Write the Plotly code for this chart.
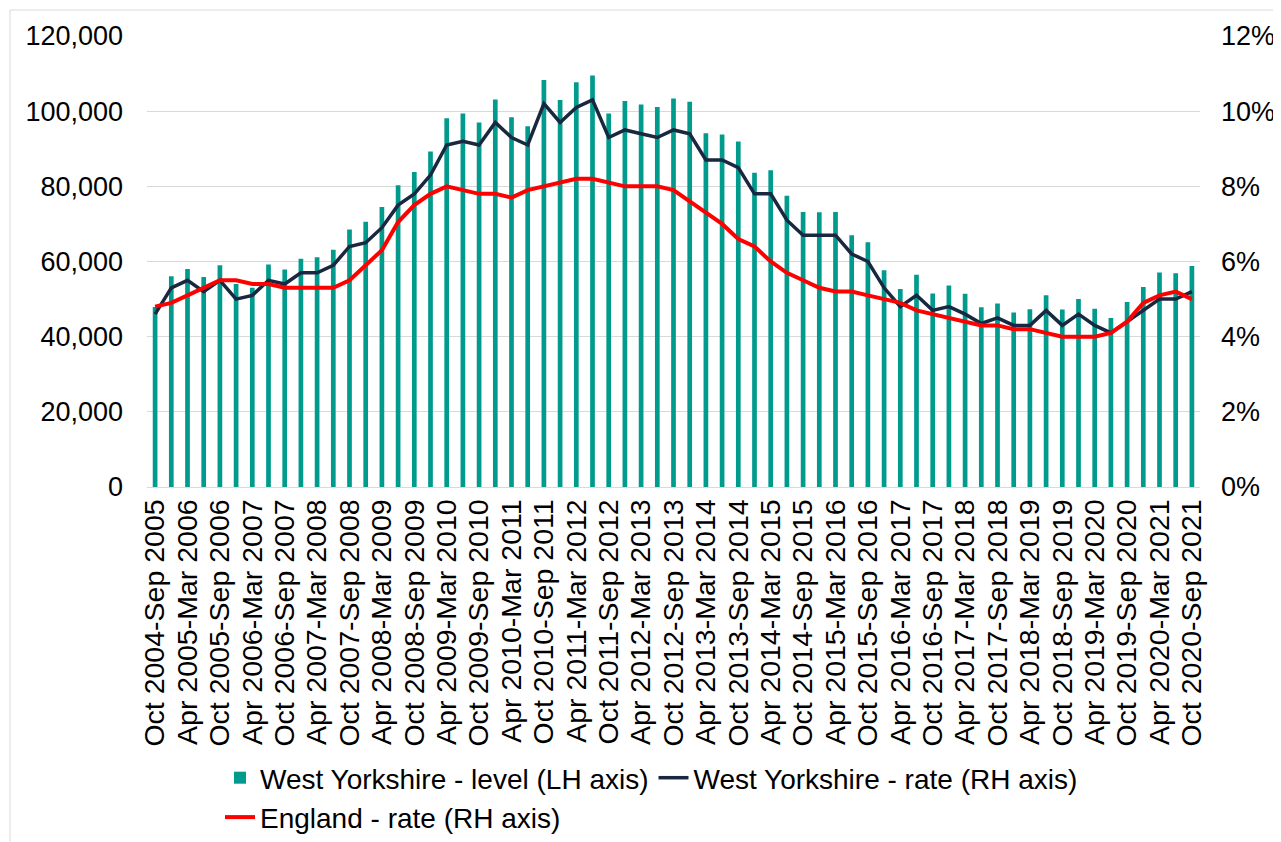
import plotly.graph_objects as go

periods = [
    "Oct 2004-Sep 2005", "Jan 2005-Dec 2005", "Apr 2005-Mar 2006", "Jul 2005-Jun 2006",
    "Oct 2005-Sep 2006", "Jan 2006-Dec 2006", "Apr 2006-Mar 2007", "Jul 2006-Jun 2007",
    "Oct 2006-Sep 2007", "Jan 2007-Dec 2007", "Apr 2007-Mar 2008", "Jul 2007-Jun 2008",
    "Oct 2007-Sep 2008", "Jan 2008-Dec 2008", "Apr 2008-Mar 2009", "Jul 2008-Jun 2009",
    "Oct 2008-Sep 2009", "Jan 2009-Dec 2009", "Apr 2009-Mar 2010", "Jul 2009-Jun 2010",
    "Oct 2009-Sep 2010", "Jan 2010-Dec 2010", "Apr 2010-Mar 2011", "Jul 2010-Jun 2011",
    "Oct 2010-Sep 2011", "Jan 2011-Dec 2011", "Apr 2011-Mar 2012", "Jul 2011-Jun 2012",
    "Oct 2011-Sep 2012", "Jan 2012-Dec 2012", "Apr 2012-Mar 2013", "Jul 2012-Jun 2013",
    "Oct 2012-Sep 2013", "Jan 2013-Dec 2013", "Apr 2013-Mar 2014", "Jul 2013-Jun 2014",
    "Oct 2013-Sep 2014", "Jan 2014-Dec 2014", "Apr 2014-Mar 2015", "Jul 2014-Jun 2015",
    "Oct 2014-Sep 2015", "Jan 2015-Dec 2015", "Apr 2015-Mar 2016", "Jul 2015-Jun 2016",
    "Oct 2015-Sep 2016", "Jan 2016-Dec 2016", "Apr 2016-Mar 2017", "Jul 2016-Jun 2017",
    "Oct 2016-Sep 2017", "Jan 2017-Dec 2017", "Apr 2017-Mar 2018", "Jul 2017-Jun 2018",
    "Oct 2017-Sep 2018", "Jan 2018-Dec 2018", "Apr 2018-Mar 2019", "Jul 2018-Jun 2019",
    "Oct 2018-Sep 2019", "Jan 2019-Dec 2019", "Apr 2019-Mar 2020", "Jul 2019-Jun 2020",
    "Oct 2019-Sep 2020", "Jan 2020-Dec 2020", "Apr 2020-Mar 2021", "Jul 2020-Jun 2021",
    "Oct 2020-Sep 2021",
]

tick_labels = periods[::2]

wy_level = [
    47900, 56100, 58000, 55900, 59000, 54000, 53000, 59200,
    57900, 60700, 61100, 63100, 68500, 70600, 74500, 80300,
    83800, 89300, 98100, 99400, 97000, 103100, 98400, 96000,
    108300, 103000, 107700, 109500, 99400, 102700, 101800, 101100,
    103400, 102500, 94100, 93800, 91900, 83600, 84300, 77500,
    73200, 73100, 73200, 67000, 65100, 57700, 52700, 56500,
    51500, 53600, 51400, 47800, 48800, 46400, 47300, 51000,
    47200, 50000, 47400, 45000, 49200, 53200, 57100, 56900,
    58800,
]

wy_rate = [
    4.6, 5.3, 5.5, 5.2, 5.5, 5.0, 5.1, 5.5,
    5.4, 5.7, 5.7, 5.9, 6.4, 6.5, 6.9, 7.5,
    7.8, 8.3, 9.1, 9.2, 9.1, 9.7, 9.3, 9.1,
    10.2, 9.7, 10.1, 10.3, 9.3, 9.5, 9.4, 9.3,
    9.5, 9.4, 8.7, 8.7, 8.5, 7.8, 7.8, 7.1,
    6.7, 6.7, 6.7, 6.2, 6.0, 5.3, 4.8, 5.1,
    4.7, 4.8, 4.6, 4.35, 4.5, 4.3, 4.3, 4.7,
    4.3, 4.6, 4.3, 4.1, 4.4, 4.7, 5.0, 5.0,
    5.2,
]

eng_rate = [
    4.8, 4.9, 5.1, 5.3, 5.5, 5.5, 5.4, 5.4,
    5.3, 5.3, 5.3, 5.3, 5.5, 5.9, 6.3, 7.05,
    7.5, 7.8, 8.0, 7.9, 7.8, 7.8, 7.7, 7.9,
    8.0, 8.1, 8.2, 8.2, 8.1, 8.0, 8.0, 8.0,
    7.9, 7.6, 7.3, 7.0, 6.6, 6.4, 6.0, 5.7,
    5.5, 5.3, 5.2, 5.2, 5.1, 5.0, 4.9, 4.7,
    4.6, 4.5, 4.4, 4.3, 4.3, 4.2, 4.2, 4.1,
    4.0, 4.0, 4.0, 4.1, 4.4, 4.9, 5.1, 5.2,
    5.0,
]

left_ticks = [0, 20000, 40000, 60000, 80000, 100000, 120000]
right_ticks = [0, 2, 4, 6, 8, 10, 12]
right_tick_text = ["0%", "2%", "4%", "6%", "8%", "10%", "12%"]

FONT = "Liberation Sans, Arial, sans-serif"
TEAL = "#009B8D"
NAVY = "#1A2740"
RED = "#FF0000"
GRID = "#D9D9D9"

# page body has an 8px default margin; compensate so plot sits where the reference does
L, T, R, B = 139, 28, 89, 363
PW = 1281 - L - R
PH = 842 - T - B

fig = go.Figure()
fig.add_trace(go.Bar(
    x=periods, y=wy_level, name="West Yorkshire - level (LH axis)",
    marker=dict(color=TEAL, line=dict(width=0)), yaxis="y",
))
fig.add_trace(go.Scatter(
    x=periods, y=wy_rate, name="West Yorkshire - rate (RH axis)",
    mode="lines", line=dict(color=NAVY, width=3.5), yaxis="y2",
))
fig.add_trace(go.Scatter(
    x=periods, y=eng_rate, name="England - rate (RH axis)",
    mode="lines", line=dict(color=RED, width=4), yaxis="y2",
))

fig.update_layout(
    width=1281, height=842,
    margin=dict(l=L, r=R, t=T, b=B, autoexpand=False),
    paper_bgcolor="white", plot_bgcolor="white",
    font=dict(family=FONT, size=27, color="black"),
    bargap=0.71,
    showlegend=True,
    legend=dict(
        orientation="h", x=(212 - L) / PW, xanchor="left",
        y=-(745 - (T + PH)) / PH, yanchor="top",
        font=dict(family=FONT, size=28, color="black"),
        traceorder="normal", itemwidth=30, tracegroupgap=0,
    ),
    xaxis=dict(
        type="category", range=[-0.5, len(periods) - 0.5],
        tickmode="array", tickvals=tick_labels, ticktext=tick_labels,
        tickangle=-90, tickfont=dict(size=28.5), showgrid=False,
        showline=True, linecolor=GRID, linewidth=1, ticks="",
        fixedrange=True,
    ),
    yaxis=dict(
        range=[0, 120000], tickmode="array", tickvals=left_ticks,
        tickformat=",.0f", showgrid=True, gridcolor=GRID, gridwidth=1,
        zeroline=False, showline=False, ticks="", ticklabelstandoff=23,
        tickfont=dict(size=27),
    ),
    yaxis2=dict(
        overlaying="y", side="right", range=[0, 12],
        tickmode="array", tickvals=right_ticks, ticktext=right_tick_text,
        showgrid=False, zeroline=False, showline=False, ticks="",
        ticklabelstandoff=20, tickfont=dict(size=27),
    ),
    shapes=[dict(
        type="rect", xref="paper", yref="paper",
        x0=(2 - L) / PW, x1=1.3, y0=-1.2, y1=(T + PH - 2) / PH,
        line=dict(color=GRID, width=1), fillcolor="rgba(0,0,0,0)", layer="below",
    )],
)

fig.write_html("out.html")
